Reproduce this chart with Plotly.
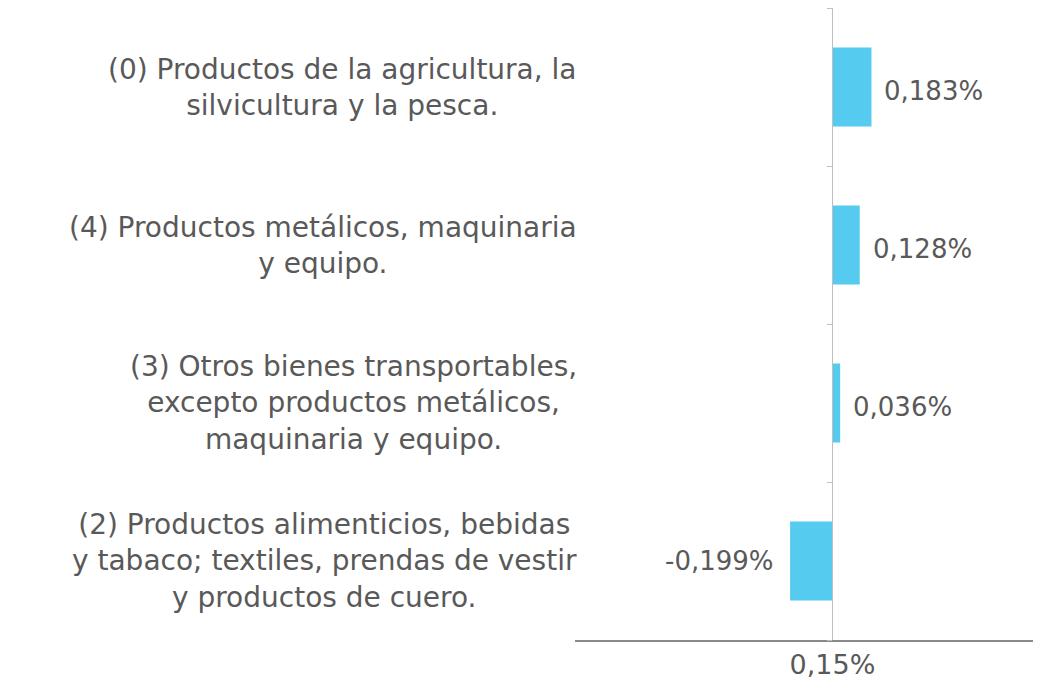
import plotly.graph_objects as go

categories = [
    "(2) Productos alimenticios, bebidas<br>y tabaco; textiles, prendas de vestir<br>y productos de cuero.",
    "(3) Otros bienes transportables,<br>excepto productos metálicos,<br>maquinaria y equipo.",
    "(4) Productos metálicos, maquinaria<br>y equipo.",
    "(0) Productos de la agricultura, la<br>silvicultura y la pesca.",
]
values = [-0.199, 0.036, 0.128, 0.183]
x_tick_vals = [0]
x_tick_text = ["0,15%"]

FONT = "DejaVu Sans"
TXT = "#595959"
x_min, x_max = -1.209, 0.979

fig = go.Figure()
fig.add_trace(go.Bar(
    y=list(range(len(categories))),
    x=values,
    orientation="h",
    marker=dict(color="#56CBF0", line=dict(width=0)),
    width=0.5,
    hoverinfo="skip",
))

for i, c in enumerate(categories):
    fig.add_annotation(
        x=0, xref="paper", y=i, yref="y",
        text=c, showarrow=False, xanchor="right", align="center",
        xshift=4,
        font=dict(family=FONT, size=28, color=TXT),
    )

for i, v in enumerate(values):
    label = f"{v:.3f}".replace(".", ",") + "%"
    fig.add_annotation(
        x=v, xref="x", y=i, yref="y",
        text=label, showarrow=False,
        xanchor="left" if v >= 0 else "right",
        xshift=11 if v >= 0 else -14,
        yshift=-4 if v >= 0 else 0,
        font=dict(family=FONT, size=26, color=TXT),
    )

fig.update_layout(
    width=1033, height=671,
    margin=dict(l=567, r=0, t=0, b=39),
    paper_bgcolor="white", plot_bgcolor="white",
    showlegend=False,
    xaxis=dict(
        range=[x_min, x_max], showgrid=False, zeroline=False,
        showline=True, linecolor="#898989", linewidth=1.5,
        tickvals=x_tick_vals, ticktext=x_tick_text, ticks="",
        tickfont=dict(family=FONT, size=27, color=TXT),
        fixedrange=True,
    ),
    yaxis=dict(
        range=[-0.5, len(categories) - 0.5],
        tickvals=[i - 0.5 for i in range(len(categories) + 1)],
        showticklabels=False, showgrid=False, zeroline=False,
        showline=True, linecolor="#BFBFBF", linewidth=1.3,
        ticks="outside", ticklen=5, tickcolor="#BFBFBF", tickwidth=1.3,
        anchor="free", position=(0 - x_min) / (x_max - x_min),
        fixedrange=True,
    ),
)

fig.write_html("out.html")
